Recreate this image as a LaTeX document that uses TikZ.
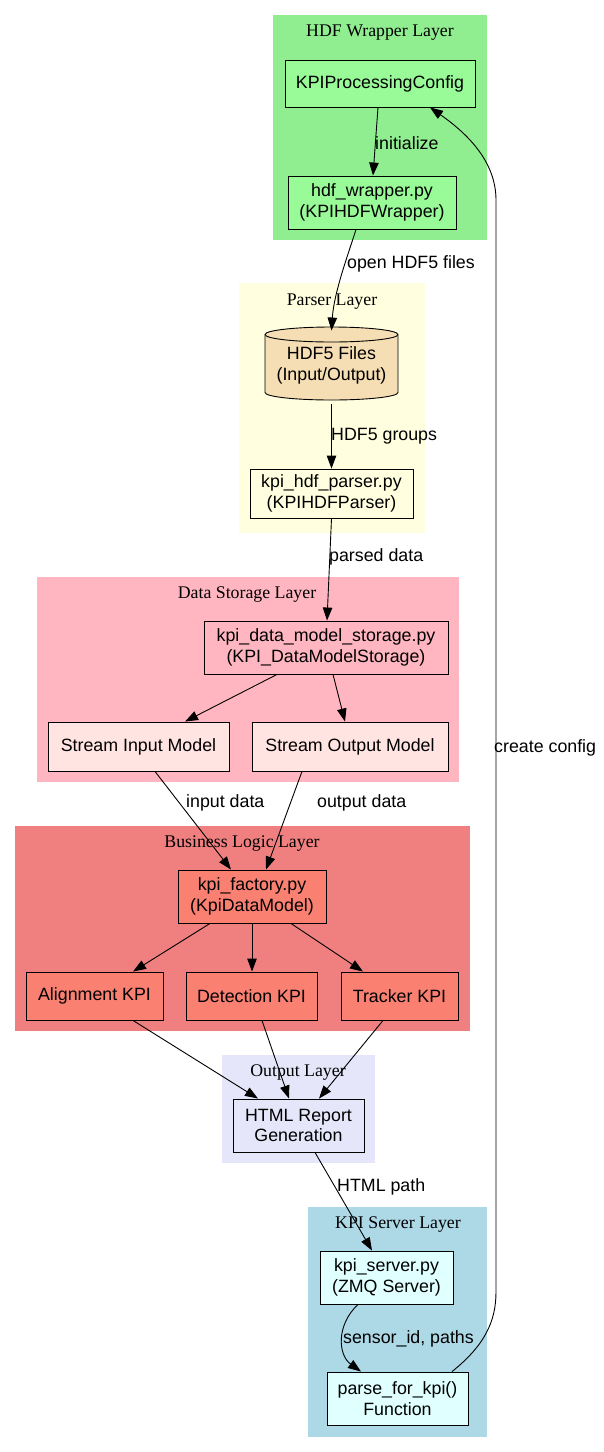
\documentclass[tikz,border=0pt]{standalone}
\usepackage{fontspec}
\setmainfont{Liberation Serif}
\newfontfamily\arialfont{Liberation Sans}
\usetikzlibrary{arrows.meta}
\definecolor{cgreen}{HTML}{90EE90}
\definecolor{cpalegreen}{HTML}{98FB98}
\definecolor{cyellow}{HTML}{FFFFE0}
\definecolor{cwheat}{HTML}{F5DEB3}
\definecolor{cpink}{HTML}{FFB6C1}
\definecolor{cmisty}{HTML}{FFE4E1}
\definecolor{ccoral}{HTML}{F08080}
\definecolor{csalmon}{HTML}{FA8072}
\definecolor{clavender}{HTML}{E6E6FA}
\definecolor{cblue}{HTML}{ADD8E6}
\definecolor{ccyan}{HTML}{E0FFFF}
\begin{document}
\begin{tikzpicture}[x=1pt,y=-1pt,
  box/.style={draw=black,line width=0.9pt,rectangle,inner sep=0pt,align=center,
    font=\arialfont\fontsize{17.8}{20.5}\selectfont},
  cluster/.style={draw=none},
  ctitle/.style={font=\fontsize{17.8}{20}\selectfont,inner sep=0pt},
  elabel/.style={font=\arialfont\fontsize{17.8}{20}\selectfont,inner sep=0pt,anchor=west},
  arr/.style={line width=0.9pt,-{Triangle[length=13pt,width=9.5pt]}}]
\useasboundingbox (0,0) rectangle (604,1452);
\fill[white] (0,0) rectangle (604,1452);
% clusters
\fill[cgreen] (273,15) rectangle (487,240);
\fill[cyellow] (239,283) rectangle (425,533);
\fill[cpink] (37,577) rectangle (459,782);
\fill[ccoral] (15,826) rectangle (470,1031);
\fill[clavender] (222,1055) rectangle (375,1163);
\fill[cblue] (308,1207) rectangle (487,1437);
\node[ctitle] (t1) at (380,33) {HDF Wrapper Layer};
\node[ctitle] (t2) at (332,302) {Parser Layer};
\node[ctitle] (t3) at (247,595) {Data Storage Layer};
\node[ctitle] (t4) at (242,844) {Business Logic Layer};
\node[ctitle] (t5) at (298,1073) {Output Layer};
\node[ctitle] (t6) at (398,1225) {KPI Server Layer};
% cylinder
\filldraw[fill=cwheat,draw=black,line width=0.9pt]
  (265,334.5) -- (265,392.5) .. controls (265,396.64) and (294.8,400) .. (331.5,400)
  .. controls (368.2,400) and (398,396.64) .. (398,392.5) -- (398,334.5)
  .. controls (398,330.36) and (368.2,327) .. (331.5,327)
  .. controls (294.8,327) and (265,330.36) .. (265,334.5) -- cycle;
\draw[line width=0.9pt] (265,334.5) .. controls (265,338.64) and (294.8,342) .. (331.5,342)
  .. controls (368.2,342) and (398,338.64) .. (398,334.5);
% nodes
\node[box,fill=cpalegreen,minimum width=190pt,minimum height=47pt] (cfg) at (380,83.5) {KPIProcessingConfig};
\node[box,fill=cpalegreen,minimum width=168pt,minimum height=53pt] (wrap) at (372,202.5) {hdf\_wrapper.py\\(KPIHDFWrapper)};
\node[box,draw=none,minimum width=133pt,minimum height=73pt] (hdf5) at (331.5,365.5) {HDF5 Files\\(Input/Output)};
\node[box,fill=cyellow,minimum width=163pt,minimum height=49pt] (parser) at (331.5,493.5) {kpi\_hdf\_parser.py\\(KPIHDFParser)};
\node[box,fill=cpink,minimum width=244pt,minimum height=53pt] (storage) at (326,647.5) {kpi\_data\_model\_storage.py\\(KPI\_DataModelStorage)};
\node[box,fill=cmisty,minimum width=181pt,minimum height=49pt] (sin) at (138.5,746.5) {Stream Input Model};
\node[box,fill=cmisty,minimum width=196pt,minimum height=49pt] (sout) at (350,746.5) {Stream Output Model};
\node[box,fill=csalmon,minimum width=148pt,minimum height=53pt] (factory) at (252,896.5) {kpi\_factory.py\\(KpiDataModel)};
\node[box,fill=csalmon,minimum width=137pt,minimum height=48pt] (align) at (94.5,996) {Alignment KPI};
\node[box,fill=csalmon,minimum width=131pt,minimum height=48pt] (detect) at (251.5,996) {Detection KPI};
\node[box,fill=csalmon,minimum width=117pt,minimum height=48pt] (tracker) at (399.5,996) {Tracker KPI};
\node[box,fill=clavender,minimum width=131pt,minimum height=53pt] (html) at (298.5,1125.5) {HTML Report\\Generation};
\node[box,fill=ccyan,minimum width=133pt,minimum height=53pt] (server) at (386.5,1277.5) {kpi\_server.py\\(ZMQ Server)};
\node[box,fill=ccyan,minimum width=141pt,minimum height=53pt] (parse) at (397.5,1398.5) {parse\_for\_kpi()\\Function};
% edges
\draw[arr] ([xshift=-2pt]cfg.south) -- ([xshift=1pt]wrap.north);
\node[elabel] (l1) at (375,143) {initialize};
\draw[arr] ([xshift=-16pt]wrap.south) .. controls (349,252) and (334,292) .. ([yshift=-2pt]hdf5.north);
\node[elabel] (l2) at (347,264) {open HDF5 files};
\draw[arr] ([yshift=-2pt]hdf5.south) -- (parser.north);
\node[elabel] (l3) at (331,436) {HDF5 groups};
\draw[arr] (parser.south) -- ([xshift=1pt]storage.north);
\node[elabel] (l4) at (329,557) {parsed data};
\draw[arr] ([xshift=-49pt]storage.south) -- ([xshift=46.5pt]sin.north);
\draw[arr] ([xshift=7pt]storage.south) -- ([xshift=-5pt]sout.north);
\draw[arr] ([xshift=16.5pt]sin.south) -- ([xshift=-21pt]factory.north);
\node[elabel] (l5) at (186,803) {input data};
\draw[arr] ([xshift=-48pt]sout.south) -- ([xshift=14pt]factory.north);
\node[elabel] (l6) at (317,803) {output data};
\draw[arr] ([xshift=-42pt]factory.south) -- ([xshift=38.5pt]align.north);
\draw[arr] (factory.south) -- ([xshift=0.5pt]detect.north);
\draw[arr] ([xshift=39pt]factory.south) -- ([xshift=-36.5pt]tracker.north);
\draw[arr] ([xshift=38.5pt]align.south) -- ([xshift=-40.5pt]html.north);
\draw[arr] ([xshift=10.5pt]detect.south) -- ([xshift=-9.5pt]html.north);
\draw[arr] ([xshift=-16.5pt]tracker.south) -- ([xshift=20.5pt]html.north);
\draw[arr] ([xshift=16.5pt]html.south) -- ([xshift=-14.5pt]server.north);
\node[elabel] (l7) at (337,1187) {HTML path};
\draw[arr] ([xshift=-28.5pt]server.south) .. controls (336,1325) and (338,1355) .. ([xshift=-36.5pt]parse.north);
\node[elabel] (l8) at (343,1339) {sensor\_id, paths};
\draw[arr] ([xshift=54.5pt]parse.north) .. controls (484,1346) and (496,1322) .. (496,1292)
  -- (496,200) .. controls (496,162) and (468,134) .. ([xshift=50pt]cfg.south);
\node[elabel] (l9) at (494,748) {create config};
\end{tikzpicture}
\end{document}
